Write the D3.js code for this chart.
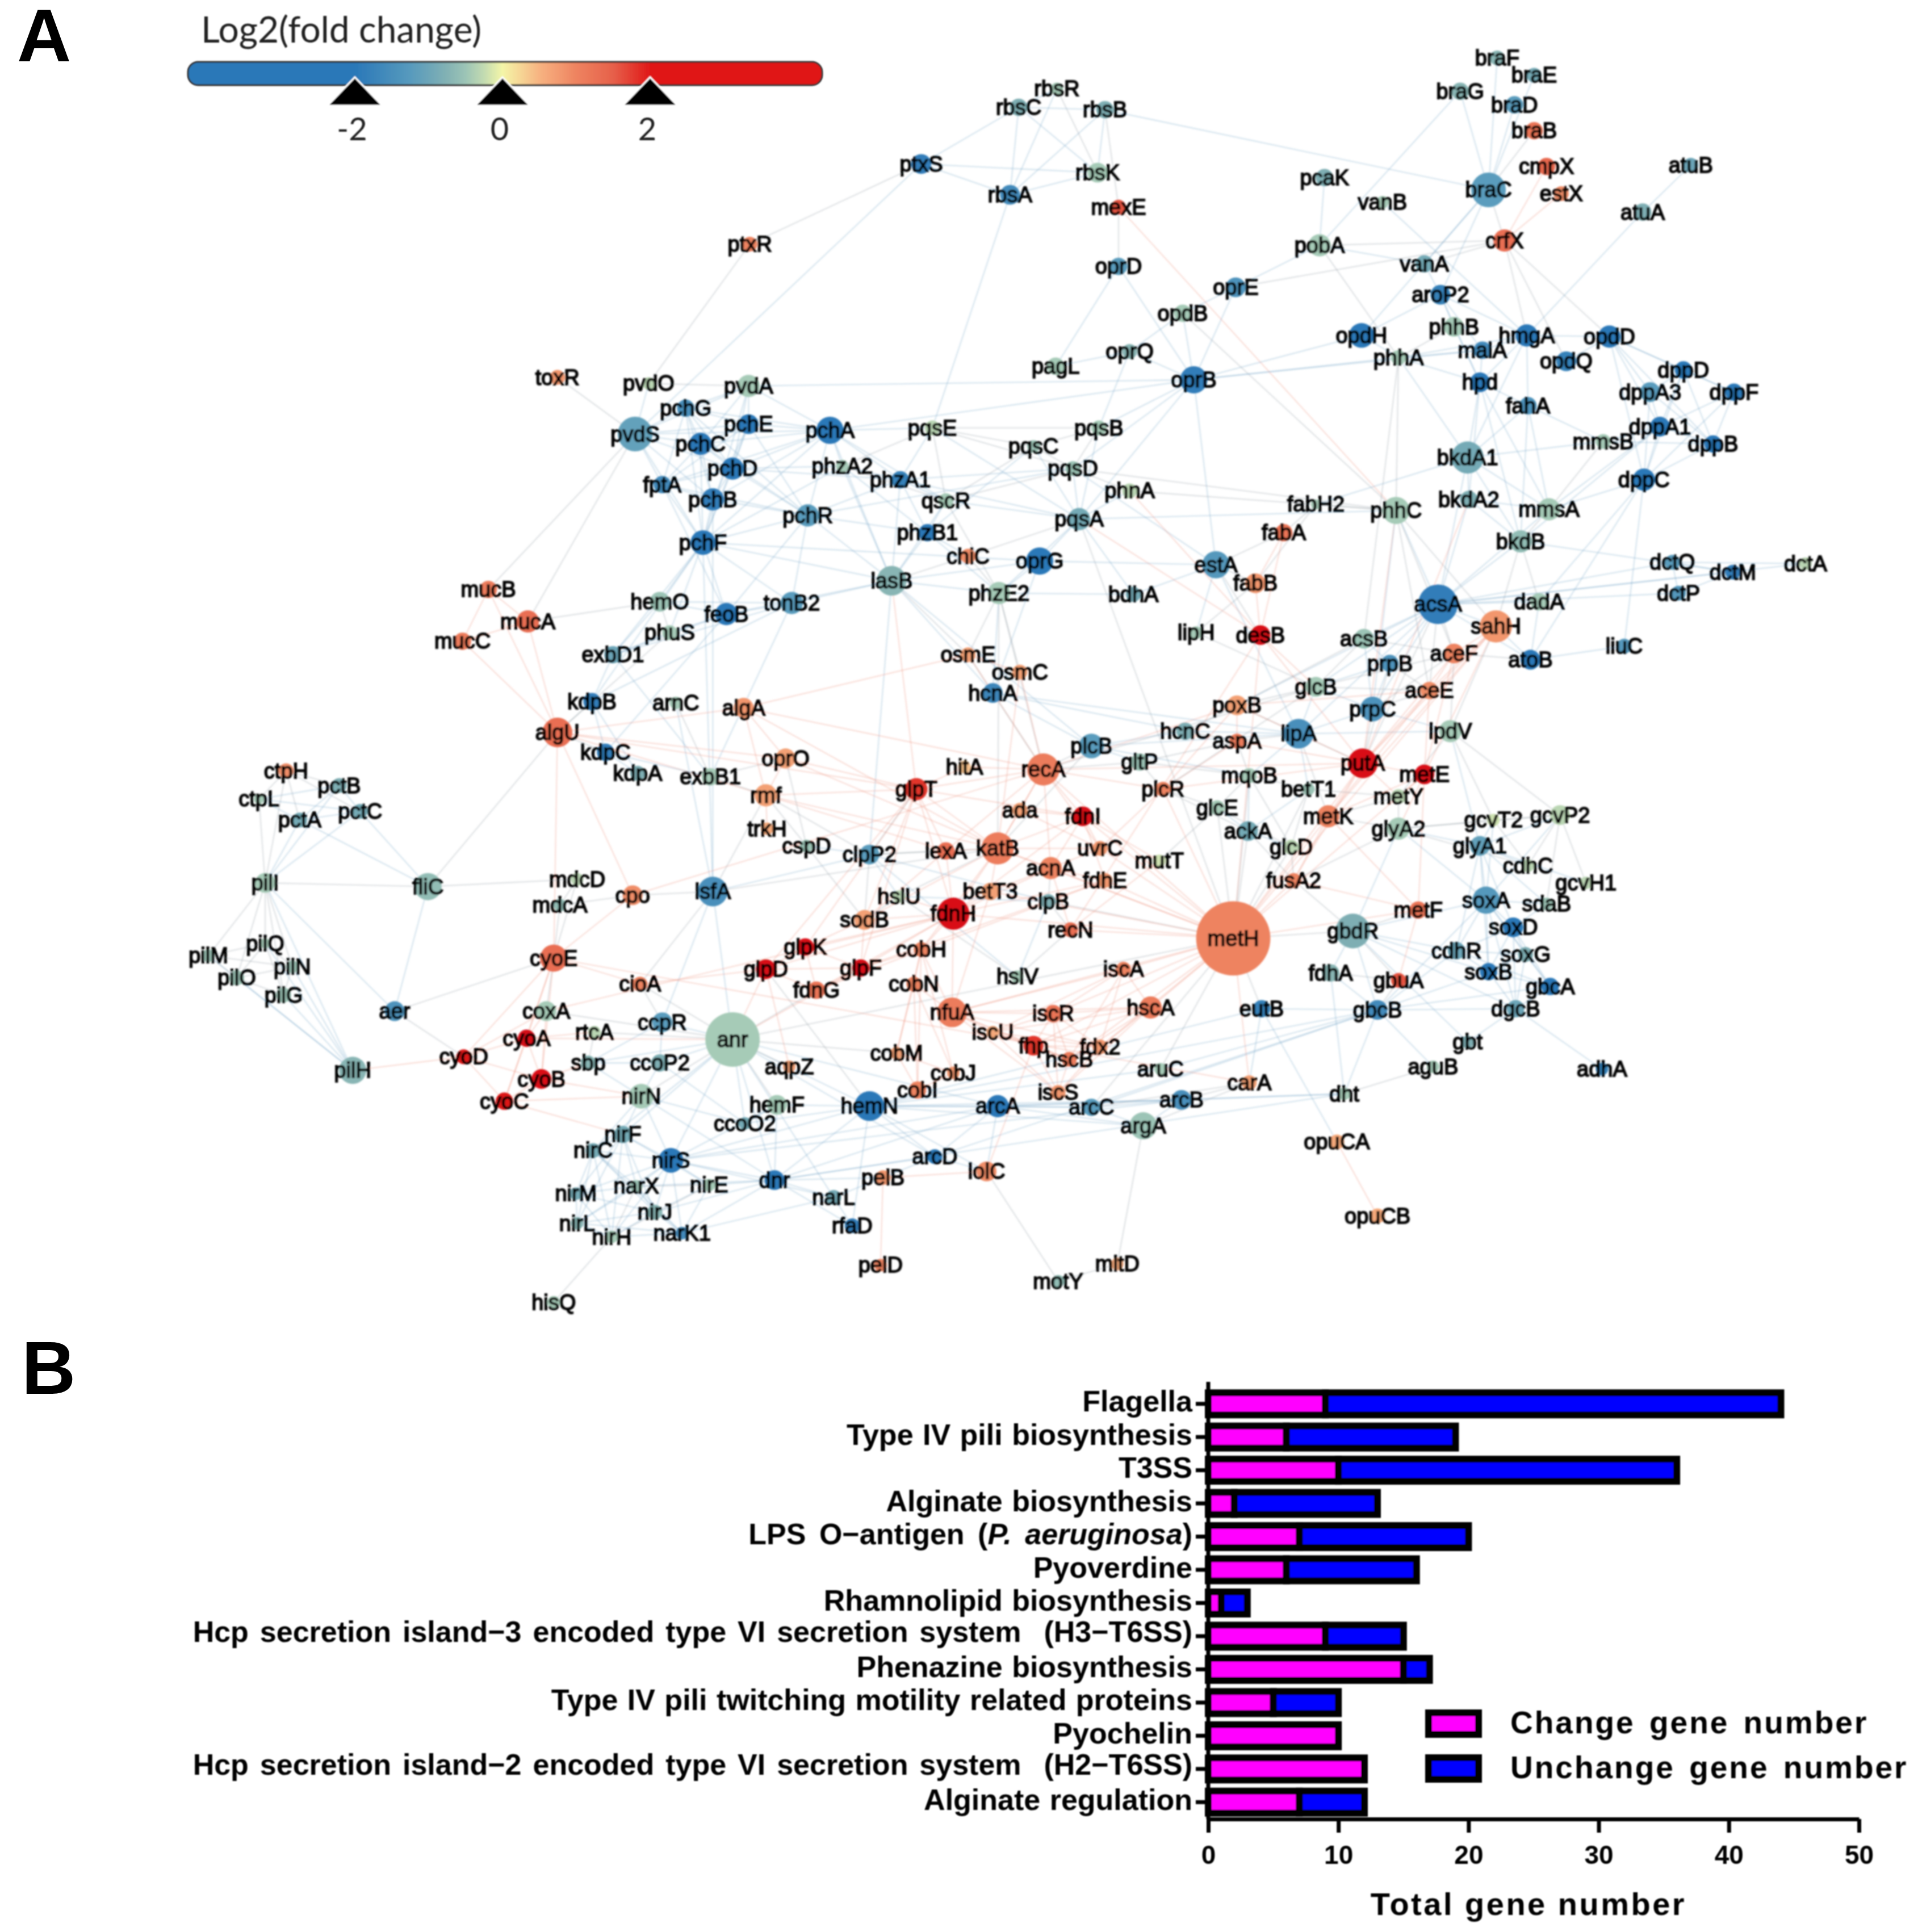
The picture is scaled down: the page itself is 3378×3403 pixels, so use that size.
<!DOCTYPE html>
<html><head><meta charset="utf-8">
<script src="https://cdn.jsdelivr.net/npm/d3@7"></script>
<style>html,body{margin:0;padding:0;background:#fff}svg{display:block}</style>
</head><body><svg id="c" width="3378" height="3403" viewBox="0 0 3378 3403"></svg>
<script>
// ---------- Panel A: network data (name, layout x, layout y, degree size, log2 fold change)
const nodeRows = `braF 1214 47 6 -.7|braE 1244 61 6 -.9|braG 1184 74 7 -.7|braD 1228 85 7 -1.2|braB 1244 106 7 1.2|cmpX 1254 135 7 1.4|estX 1266 157 6 .9|atuB 1371 134 6 -1|braC 1207 154 14 -1.2|pcaK 1074 144 7 -.8|vanB 1121 164 5 -.4|atuA 1332 172 7 -.8|crfX 1220 195 9 1.3|pobA 1070 199 9 -.4|vanA 1155 214 7 -.9|aroP2 1168 239 8 -1.8|rbsR 857 72 5 -.4|rbsC 826 87 7 -.8|rbsB 896 89 7 -.8|rbsK 890 140 8 -.4|rbsA 819 158 8 -1.6|mexE 907 168 6 1.6|ptxS 747 133 8 -1.9|ptxR 608 198 6 1|oprD 907 216 7 -1.2|oprE 1002 233 8 -1.4|opdB 959 254 7 -.4|opdH 1104 272 10 -2|phhB 1179 265 8 -.4|hmgA 1238 272 9 -2|opdD 1305 273 9 -2|phhA 1134 290 6 -.4|malA 1202 284 7 -1.6|opdQ 1270 293 8 -1.8|oprQ 916 285 6 -.7|pagL 856 297 7 -.4|oprB 968 308 11 -1.9|hpd 1200 310 8 -2|fahA 1239 329 7 -1.4|dppD 1365 300 7 -2|dppF 1406 318 7 -2|dppA3 1338 318 8 -1.2|dppA1 1346 346 8 -2|dppB 1389 360 7 -2|mmsB 1300 358 6 -.4|bkdA1 1190 371 13 -.9|dppC 1333 389 9 -2|pqsE 756 347 6 -.3|pqsB 891 347 6 -.4|pqsC 838 362 5 -.5|pqsD 870 380 6 -.5|phnA 916 398 6 -.3|pqsA 875 421 9 -.9|oprG 843 455 11 -2|estA 986 458 11 -1.3|bdhA 919 482 6 -.9|fabH2 1067 409 4 -.4|fabA 1041 432 7 1.2|fabB 1018 473 8 .8|phhC 1132 414 11 -.4|bkdA2 1191 405 7 -.8|mmsA 1256 413 9 -.4|bkdB 1233 439 9 -.6|dctQ 1356 456 6 -1.2|dctM 1405 464 6 -1.9|dctA 1464 457 5 -.3|dctP 1361 481 6 -1.3|dadA 1248 488 7 -.4|acsA 1166 490 16 -1.9|sahH 1213 508 13 .8|liuC 1317 524 6 -1.3|lipH 970 513 5 -.4|desB 1022 515 8 2.3|acsB 1106 518 8 -.5|aceF 1179 530 8 1|prpB 1127 538 7 -1.4|atoB 1241 535 8 -2|toxR 452 306 6 .8|pvdO 526 311 5 -.3|pvdA 607 313 9 -.4|pchG 556 331 7 -1.5|pvdS 515 352 14 -1.1|pchE 607 344 8 -2|pchC 568 360 9 -2|pchA 673 349 11 -2|pchD 594 380 9 -2|phzA2 683 378 5 -.4|fptA 537 393 7 -1.6|pchB 578 405 9 -1.9|phzA1 730 389 7 -1.8|qscR 767 406 6 -.4|pchR 655 418 9 -1.2|phzB1 752 432 7 -2|pchF 570 440 10 -2|chiC 785 451 6 .9|lasB 723 471 12 -.7|phzE2 810 481 9 -.4|hemO 535 488 8 -.5|feoB 589 498 9 -2|tonB2 642 489 9 -1.2|phuS 543 513 6 -.4|mucB 396 478 7 1.1|mucA 428 504 9 1.3|mucC 375 520 7 1.1|exbD1 497 531 7 -1|osmE 785 531 6 .7|osmC 827 545 6 .7|hcnA 805 562 8 -1.7|kdpB 480 569 7 -1.9|arnC 548 570 5 -.4|algA 603 574 8 .8|algU 452 594 12 1.3|kdpC 491 610 7 -1.9|kdpA 517 627 6 -.8|exbB1 576 630 7 -.4|oprO 637 615 8 .7|rmf 621 645 9 .7|glcB 1067 557 8 -.4|aceE 1159 560 7 .9|prpC 1113 575 10 -1.4|poxB 1003 572 8 .7|hcnC 961 593 7 -.8|lipA 1053 595 12 -1.5|lpdV 1176 593 9 -.4|plcB 885 605 10 -1.2|recA 846 624 13 1.1|gltP 924 618 7 -.5|aspA 1003 601 6 1.1|putA 1105 619 12 2.3|metE 1155 628 8 2.3|mqoB 1013 629 6 -.4|betT1 1061 640 5 -.5|plcR 943 640 6 1|metY 1134 646 6 -.3|ada 827 657 6 .7|fdnI 878 662 8 2.3|glcE 987 655 6 -.4|ackA 1012 674 8 -.9|metK 1077 662 9 1|gcvT2 1211 665 5 -.2|gcvP2 1265 661 8 -.3|glyA2 1134 672 9 -.4|katB 809 688 13 1.1|uvrC 892 688 6 .8|glcD 1047 687 6 -.3|glyA1 1200 686 8 -1.1|mutT 940 698 5 -.2|acnA 852 704 9 1|fdhE 896 714 6 .8|fusA2 1049 714 6 1|cdhC 1239 702 5 -.3|gcvH1 1286 716 5 -.3|lexA 767 690 7 1.3|clpP2 705 693 8 -1.2|cspD 654 686 5 -.5|trkH 622 672 5 .6|glpT 743 640 9 1.8|hitA 782 622 5 .4|betT3 803 723 7 .7|clpB 850 731 6 -.8|soxA 1205 730 11 -1.3|sdaB 1254 733 5 -.5|metF 1150 738 7 1.2|fdnH 773 741 13 2.3|hslU 729 727 5 -.3|sodB 701 746 8 .7|recN 868 754 6 1.3|gbdR 1097 755 14 -.8|soxD 1227 752 8 -2|metH 1000 761 30 1|cdhR 1181 771 7 -1|soxG 1237 774 6 -.8|mdcD 468 713 5 -.3|mdcA 454 734 5 -.6|cpo 513 726 8 .9|lsfA 578 723 12 -1.5|fliC 347 719 11 -.6|pilI 215 716 8 -.4|ctpH 232 625 6 .9|pctB 275 637 6 -.8|ctpL 210 648 4 -.4|pctA 243 665 6 -.9|pctC 292 658 6 -.9|pilQ 215 765 4 -.4|pilM 169 775 5 -.5|pilN 237 784 5 -.5|pilO 192 793 6 -.5|pilG 230 807 6 -.5|aer 320 820 8 -1.4|pilH 286 868 11 -.7|cyoE 449 777 11 1.3|glpK 653 768 7 2.2|glpD 621 786 8 2.3|glpF 698 785 7 2.3|cobH 747 770 6 1|cobN 741 798 6 1|fdnG 662 803 7 1.2|cioA 519 798 6 1|hslV 825 792 5 -.4|iscA 911 786 6 1|nfuA 772 821 12 1.1|hscA 933 817 9 1.1|iscR 854 822 7 1.2|eutB 1023 818 7 -1.8|fdhA 1079 789 7 -.7|gbuA 1134 795 6 1.6|soxB 1207 788 7 -2|gbcA 1257 800 7 -2|gbcB 1117 819 8 -1.6|dgcB 1229 818 7 -1|coxA 443 820 8 -.4|ccpR 537 829 8 -1.2|rtcA 482 837 5 -.3|cyoA 427 842 7 2.4|anr 594 843 22 -.4|iscU 805 837 5 .6|fhp 838 848 8 1.8|fdx2 892 849 6 .8|hscB 867 859 6 1.1|sbp 477 862 6 -.7|ccoP2 535 862 7 -.8|cyoD 376 857 6 2.1|cobM 727 854 5 .7|aqpZ 640 865 5 .7|cobJ 773 870 5 .8|cyoB 439 875 8 2.2|cobI 744 884 7 1|aruC 941 867 5 -.4|gbt 1190 845 5 -.8|aguB 1162 865 5 -.4|adhA 1299 867 5 -1.8|carA 1013 878 6 .7|iscS 858 886 6 .8|dht 1090 887 5 -.4|nirN 520 889 10 -.4|cyoC 409 893 7 2.1|hemF 630 896 8 -.4|hemN 705 897 12 -2|ccoO2 604 911 5 -.9|arcA 809 897 9 -2|arcC 885 898 7 -1.2|arcB 958 892 8 -1.5|argA 927 913 11 -.5|nirF 505 920 7 -.9|nirC 481 933 6 -.9|nirS 544 941 10 -2|arcD 758 938 6 -2|opuCA 1084 926 6 .6|pelB 716 955 6 .8|lolC 800 950 8 .9|dnr 628 957 8 -2|nirM 467 968 5 -.9|narX 516 962 5 -.5|nirE 575 961 5 -.4|narL 676 971 6 -.9|nirJ 531 983 6 -.7|opuCB 1117 986 6 .6|nirL 468 992 5 -.7|narK1 553 1000 5 -1.6|nirH 496 1003 5 -.4|rfaD 691 994 6 -1.9|pelD 714 1026 5 1|mltD 906 1025 5 .6|motY 858 1039 5 -.6|hisQ 449 1056 5 -.4`;

// adjacency: "hub: neighbours"
const edgeRows = [
"braC: braF braE braG braD braB vanA crfX aroP2 rbsB opdH",
"crfX: cmpX estX hmgA opdD vanA pobA opdQ",
"braG: pobA","pobA: pcaK vanA phhA oprE","vanB: hmgA","crfX: oprE",
"rbsA: rbsC rbsR rbsB rbsK ptxS pqsE","rbsK: rbsC rbsB rbsR ptxS","ptxS: ptxR rbsC pvdS","ptxR: pvdO","rbsC: rbsB rbsR",
"mexE: oprD phhC rbsB","oprD: oprB pagL","oprE: oprB opdB","opdB: oprB oprQ phhC","oprQ: pagL pqsB oprB",
"oprB: opdH phhA estA pqsA pqsD pchA malA pqsB","atuB: atuA","atuA: hmgA",
"aroP2: opdH phhB hpd hmgA malA vanA","phhB: phhA hpd","phhA: hpd malA opdH bkdA1 phhC hmgA acsB","hpd: fahA bkdA1 malA hmgA bkdA2 mmsA bkdB","hmgA: fahA malA bkdA1","fahA: bkdB mmsA bkdA1 mmsB",
"opdD: dppD dppF dppA3 dppA1 dppB dppC opdQ hmgA","dppA1: dppD dppF dppA3 dppB dppC mmsA mmsB bkdB","dppC: dppD dppF dppA3 dppB mmsA atoB","dppB: dppD dppA3 dppF mmsB","dppD: dppA3 dppF",
"bkdA1: bkdA2 bkdB mmsA mmsB acsA fabH2","bkdA2: acsA bkdB mmsA putA","bkdB: acsA sahH mmsA dadA","mmsA: mmsB acsA","phhC: acsA sahH aceF pqsA fabH2 aceE putA prpC","fabH2: fabA fabB","fabA: fabB desB","fabB: desB lipH estA",
"acsA: dctQ dctM dctP dctA dadA sahH acsB prpB prpC aceF aceE glcB lipA putA atoB poxB","atoB: liuC aceF dadA sahH","sahH: metE metK putA metH aceF aceE lpdV","dctQ: dctM dctP dctA","dctM: dctP bkdB","liuC: dppC",
"toxR: pvdS","pvdS: pvdO pvdA pchG pchE pchC pchD fptA pchB pchA mucB mucA pchF","pvdA: pvdO pchG pchE pchC pchD pchA oprB pchF",
"pchG: pchE pchC pchD pchB pchF pchR pchA fptA","pchE: pchC pchD pchB pchF pchR pchA fptA","pchC: pchD pchB pchF pchR pchA fptA","pchD: pchB pchF pchR pchA fptA phzA2 phzA1","pchB: pchF pchR pchA fptA","pchA: pchF pchR fptA pqsE phzA2 phzA1 qscR lasB","fptA: pchF pchR feoB","pchF: pchR hemO feoB tonB2 lasB phuS exbD1 kdpB lsfA",
"pchR: feoB tonB2 lasB phzA1 phzB1 pqsD","phzA1: phzA2 phzB1 qscR pqsE lasB pqsA pqsD","phzA2: phzB1 qscR pchF pqsE lasB","phzB1: qscR lasB chiC pqsC phzE2","qscR: pqsA pqsD pqsC pqsE phzE2 lasB","pqsA: pqsB pqsC pqsD pqsE oprG phnA desB phzE2 metH chiC bdhA","pqsB: pqsC pqsD pqsE","pqsC: pqsD pqsE","pqsD: pqsE phnA estA phhC","phnA: phhC desB","oprG: pchF phzE2 lasB estA hcnA",
"lasB: chiC hcnA plcB phzE2 tonB2 feoB osmE glpT clpP2","phzE2: chiC hcnA recA osmC osmE bdhA katB","estA: lipH desB bdhA oprB fabA lipA","desB: metH recN putA glcB","osmE: osmC hcnA recA algA","hemO: phuS feoB exbD1","feoB: tonB2 phuS exbD1 kdpC","tonB2: exbD1 exbB1 kdpB hemO","phuS: exbD1 algU","exbD1: exbB1 kdpB",
"mucA: mucB mucC algU hemO","mucB: mucC algU","mucC: algU","algU: algA rmf oprO fliC kdpC kdpB cpo cyoE glpT","algA: rmf oprO recA katB","kdpB: kdpC kdpA","kdpC: kdpA exbB1","arnC: lsfA exbB1","exbB1: rmf oprO","rmf: oprO trkH cspD glpT lexA katB clpP2","oprO: glpT katB cspD",
"recA: ada fdnI katB lexA uvrC glpT acnA plcR poxB putA metH","hcnA: plcB hcnC recA lipA","plcB: hcnC gltP recA lipA katB mqoB","hcnC: lipA aspA poxB","lipA: prpC glcB aspA putA poxB lpdV metK mqoB betT1","poxB: aspA putA glcB aceE plcR","aspA: putA plcR mqoB gltP","putA: metE metK metY aceF aceE fusA2 plcR metH prpC prpB","metE: metK metY glyA2 aceF aceE metF metH","metK: metY glyA2 metF metH fusA2 aceE",
"lpdV: prpC glyA1 gcvT2 aceF metY","glyA2: glyA1 metY gcvT2 gcvP2 soxA cdhC fusA2","glyA1: gcvT2 gcvP2 soxA soxD sdaB cdhC gcvH1 cdhR soxB","gcvP2: gcvT2 cdhC gcvH1 sdaB soxA lpdV","gcvT2: cdhC soxA","soxA: soxB soxD soxG sdaB cdhR gbcA dgcB gbcB gbdR","soxD: soxB soxG sdaB cdhR gbcA dgcB","soxB: soxG cdhR gbcA dgcB gbcB gbdR","soxG: gbcA dgcB cdhR","gbcA: dgcB gbcB cdhR","dgcB: gbcB gbt adhA gbdR","cdhR: gbcB gbdR","gbdR: metF fdhA gbcB gbuA metH glyA2 gbt","gbcB: fdhA gbuA aguB dht eutB arcC","gbuA: fdhA metF","dht: aguB arcA arcB",
"metH: fusA2 glcD ackA metK recA katB fdnH nfuA hscA iscA plcR eutB carA aruC arcC anr metF mqoB glcE betT1 fdhE acnA uvrC recN fdnI fhp hscB iscR fdx2 clpB gbdR betT3",
"glcE: ackA glcD mqoB mutT plcR","ackA: glcD mqoB fusA2 plcR","glcD: fusA2 betT1 mqoB","mqoB: betT1 glcE","fusA2: gbdR metF",
"katB: lexA ada fdnH betT3 acnA uvrC glpT fdnI clpP2 sodB hslU cobH","acnA: uvrC fdnI fdhE betT3 fdnH clpB recN","fdnI: fdhE fdnH glpT uvrC ada mutT","fdhE: fdnH fdnG glpF","fdnH: glpF glpD glpK fdnG sodB betT3 hslU lexA glpT cobH nfuA","glpT: glpK glpD glpF lexA hitA clpP2 sodB","glpK: glpD glpF fdnG sodB","glpD: glpF fdnG aqpZ cioA","glpF: fdnG cobH sodB","sodB: clpP2 hslU lexA cspD","clpP2: hslU lexA cspD clpB hslV","hslU: hslV clpB","hslV: clpB recN",
"cobH: cobN cobM cobI cobJ nfuA","cobN: cobM cobI cobJ nfuA","cobM: cobI cobJ","cobJ: cobI","nfuA: iscR iscU fhp hscA iscA hscB fdx2 iscS betT3","iscR: iscU fhp hscA iscA hscB fdx2 iscS","hscA: iscA iscU hscB fdx2 fhp iscS","iscA: iscU fdx2 hscB","iscU: fhp hscB fdx2 iscS","fhp: hscB fdx2 iscS lolC","hscB: fdx2 iscS","fdx2: iscS",
"anr: nirN nirF nirS ccoP2 ccoO2 hemF hemN dnr lsfA fdnG glpD cioA coxA ccpR rtcA sbp aqpZ arcA nirC cyoA cobM glpF arcD narL",
"ccpR: ccoP2 lsfA cioA sbp","ccoP2: ccoO2 sbp nirN","ccoO2: hemF hemN nirN","hemF: hemN dnr nirS","hemN: arcA arcC arcB argA arcD dnr nirS lolC aruC rfaD glpD","arcA: arcC arcB argA arcD lolC dnr nirS","arcC: arcB argA carA","arcB: argA carA dht","argA: mltD carA",
"nirN: nirF nirS nirC sbp cyoB cyoC","nirF: nirC nirS nirM narX nirE nirJ nirL nirH","nirS: nirC nirM narX nirE nirJ nirL nirH narK1 dnr narL","nirC: nirM narX nirJ nirL nirH narK1","nirM: narX nirJ nirL nirH","narX: nirJ nirL nirH narK1 nirE dnr","nirE: nirJ nirH narK1 dnr","nirJ: nirL nirH narK1 dnr","nirL: nirH narK1","nirH: narK1 hisQ","narK1: dnr narL","dnr: narL rfaD pelB arcD nirJ nirN","narL: rfaD arcD","pelB: pelD lolC","lolC: motY arcD","motY: mltD",
"cyoE: mdcA mdcD cyoA cyoB cyoC cyoD coxA cioA cpo","cyoA: cyoB cyoC cyoD coxA","cyoB: cyoC cyoD sbp","cyoC: cyoD nirF","cyoD: coxA aer pilH","coxA: cyoB fdnH","rtcA: sbp cyoA","cioA: glpD lsfA","mdcA: mdcD cpo","cpo: lsfA recA","lsfA: clpP2 ccpR katB rmf pchB",
"fliC: pctA pctC mdcD aer algU pilI","pilI: ctpH pctB ctpL pctA pctC pilQ pilM pilN pilO pilG aer pilH","pctA: ctpH pctB ctpL pctC","pctB: ctpH ctpL pctC","pctC: ctpH ctpL","ctpH: ctpL","pilH: pilQ pilM pilN pilO pilG cyoD","pilQ: pilN pilO pilG pilM","pilM: pilN pilO","pilN: pilO pilG","pilO: pilG","aer: cyoE",
"eutB: opuCA carA","opuCA: opuCB","carA: cyoE","dht: fdhA","aruC: gbcB","hemN: gbcB eutB","arcD: gbcB","nirS: arcB","dnr: dht",
"lipH: glcB","poxB: acsB","acsB: prpB prpC glcB aceF","prpB: prpC glcB aceE","prpC: glcB aceE aceF","glcB: aceF aceE plcR recA","aceE: aceF metE","dadA: dppC",
"osmC: recA katB","hitA: recA glpT","ada: uvrC","clpB: recN","plcR: uvrC gltP","gltP: mqoB recA","betT1: metY ackA","metY: glyA2","mutT: recN glcE"
];

// ---------- Panel B: bar chart data
const pathways = ["Flagella","Type IV pili biosynthesis","T3SS","Alginate biosynthesis","LPS O\u2212antigen (P. aeruginosa)","Pyoverdine","Rhamnolipid biosynthesis","Hcp secretion island\u22123 encoded type VI secretion system  (H3\u2212T6SS)","Phenazine biosynthesis","Type IV pili twitching motility related proteins","Pyochelin","Hcp secretion island\u22122 encoded type VI secretion system  (H2\u2212T6SS)","Alginate regulation"];
const changed   = [9,6,10,2,7,6,1,9,15,5,10,12,7];
const unchanged = [35,13,26,11,13,10,2,6,2,5,0,0,5];
const xTicks = [0,10,20,30,40,50];
const fcTicks = [-2,0,2];

const svg = d3.select("#c");
const defs = svg.append("defs");
defs.append("filter").attr("id","soft").attr("filterUnits","userSpaceOnUse")
  .attr("x",0).attr("y",0).attr("width",3378).attr("height",3403)
  .append("feGaussianBlur").attr("stdDeviation",1.5);
defs.append("filter").attr("id","softB").attr("filterUnits","userSpaceOnUse")
  .attr("x",0).attr("y",0).attr("width",3378).attr("height",3403)
  .append("feGaussianBlur").attr("stdDeviation",0.9);

const fc = d3.scaleLinear()
  .domain([-2,-1.2,-.8,-.4,0,.5,1,1.5,2,2.4])
  .range(["#2a78b8","#5a9cbd","#7eaeb3","#a6cbb7","#f4f6a8","#f7b381","#ee8360","#e6604a","#e01818","#d60814"])
  .clamp(true);

const sx = d3.scaleLinear().domain([0,1000]).range([0,2172]);
const sy = d3.scaleLinear().domain([0,1000]).range([0,2172]);
const sr = d3.scaleLinear().domain([0,10]).range([0,21.8]);

const nodes = nodeRows.split("|").map(s=>{const p=s.trim().split(/\s+/);return {n:p[0],x:+p[1],y:+p[2],r:+p[3],f:+p[4]};});
const byName = new Map(nodes.map(d=>[d.n,d]));
const seen = new Set(), edges = [];
edgeRows.forEach(r=>{const [a,rest]=r.split(":");rest.trim().split(/\s+/).forEach(b=>{
  const k=[a,b].sort().join("~"); if(seen.has(k)||!byName.has(a)||!byName.has(b))return; seen.add(k);
  edges.push({a:byName.get(a),b:byName.get(b)});});});

// Panel letters
const letters=[["A",30,108],["B",38,2455]];
svg.selectAll("text.pl").data(letters).join("text").attr("class","pl")
  .attr("x",d=>d[1]).attr("y",d=>d[2]).text(d=>d[0])
  .attr("font-family","Liberation Sans").attr("font-weight","bold").attr("font-size",132).attr("fill","#000");

// Colour legend
const barX = d3.scaleLinear().domain([-2,2]).range([625,1145]);
const lg = svg.append("g").attr("filter","url(#softB)");
const grad = defs.append("linearGradient").attr("id","bar").attr("gradientUnits","userSpaceOnUse")
  .attr("x1",barX(-2)).attr("x2",barX(2)).attr("y1",0).attr("y2",0);
d3.range(-2,2.01,.25).forEach(v=>grad.append("stop").attr("offset",(v+2)/4).attr("stop-color",fc(v)));
lg.append("rect").attr("x",331).attr("y",109).attr("width",1117).attr("height",41).attr("rx",18)
  .attr("fill","url(#bar)").attr("stroke","#333").attr("stroke-width",3);
lg.append("text").attr("x",354).attr("y",75).text("Log2(fold change)")
  .attr("font-family","Lato").attr("font-size",64).attr("fill","#222");
fcTicks.forEach(v=>{
  const x=barX(v);
  lg.append("path").attr("d",d3.line()([[x,136],[x+48,186],[x-48,186]])+"Z").attr("fill","#000").attr("stroke","#fff").attr("stroke-width",3);
  lg.append("text").attr("x",x-5).attr("y",247).attr("text-anchor","middle").text(v)
    .attr("font-family","Lato").attr("font-size",56).attr("fill","#222");
});

// Network
const net = svg.append("g").attr("filter","url(#soft)");
net.append("g").selectAll("line").data(edges).join("line")
  .attr("x1",d=>sx(d.a.x)).attr("y1",d=>sy(d.a.y)).attr("x2",d=>sx(d.b.x)).attr("y2",d=>sy(d.b.y))
  .attr("stroke",d=>{const m=(d.a.f+d.b.f)/2; return m>0.5?"#ee8d78":(m<-0.5?"#6ea3c6":"#8f9aa3");})
  .attr("stroke-opacity",.28).attr("stroke-width",2.3);
net.append("g").selectAll("circle").data(nodes).join("circle")
  .attr("cx",d=>sx(d.x)).attr("cy",d=>sy(d.y)).attr("r",d=>sr(d.r)).attr("fill",d=>fc(d.f));
net.append("g").selectAll("text").data(nodes).join("text")
  .attr("x",d=>sx(d.x)).attr("y",d=>sy(d.y)+13).attr("text-anchor","middle").text(d=>d.n)
  .attr("font-family","Liberation Sans").attr("font-size",38).attr("fill","#000")
  .attr("stroke","#000").attr("stroke-width",1.8);

// Panel B
const x = d3.scaleLinear().domain([0,50]).range([2128,3274]);
const y = d3.scaleBand().domain(pathways).range([2443.5,3203.5]).paddingInner(0).align(.5);
const b = svg.append("g").attr("filter","url(#softB)");
const barH = 39, sw = 12;
const rows = pathways.map((p,i)=>({p,c:changed[i],u:unchanged[i]}));
const rowG = b.selectAll("g.r").data(rows).join("g").attr("class","r");
rowG.append("rect").attr("x",x(0)).attr("y",d=>y(d.p)+y.bandwidth()/2-barH/2)
  .attr("width",d=>x(d.c)-x(0)).attr("height",barH).attr("fill","#ff00ff").attr("stroke","#000").attr("stroke-width",sw);
rowG.filter(d=>d.u>0).append("rect").attr("x",d=>x(d.c)).attr("y",d=>y(d.p)+y.bandwidth()/2-barH/2)
  .attr("width",d=>x(d.c+d.u)-x(d.c)).attr("height",barH).attr("fill","#0000ff").attr("stroke","#000").attr("stroke-width",sw);
rowG.append("line").attr("x1",d=>x(d.c)).attr("x2",d=>x(d.c)).attr("y1",d=>y(d.p)+y.bandwidth()/2-barH/2+sw/2).attr("y2",d=>y(d.p)+y.bandwidth()/2+barH/2-sw/2).attr("stroke","#000").attr("stroke-width",3);

const ay = d3.axisLeft(y).tickSize(22).tickPadding(6);
const gy = b.append("g").attr("transform",`translate(${x(0)},0)`).call(ay);
gy.select(".domain").attr("d",`M0,2434V3204`).attr("stroke","#000").attr("stroke-width",7);
gy.selectAll(".tick line").attr("stroke","#000").attr("stroke-width",7);
gy.selectAll(".tick text").attr("font-family","Liberation Sans").attr("font-weight","bold").attr("font-size",52).attr("fill","#000")
  .attr("dy","0.26em").attr("word-spacing",d=>d.startsWith("Hcp")?5.5:(d.startsWith("LPS")?9:2)).style("white-space","pre")
  .each(function(d){
    if(d.startsWith("Hcp"))d3.select(this).attr("dy","0.2em");
    if(d.includes("P. aeruginosa")){const t=d3.select(this);t.text(null);
      t.append("tspan").text("LPS O\u2212antigen (");t.append("tspan").attr("font-style","italic").text("P. aeruginosa");t.append("tspan").text(")");}
  });
const ax = d3.axisBottom(x).tickValues(xTicks).tickSize(24).tickPadding(22).tickSizeOuter(0);
const gx = b.append("g").attr("transform","translate(0,3204)").call(ax);
gx.select(".domain").attr("stroke","#000").attr("stroke-width",7);
gx.selectAll(".tick line").attr("stroke","#000").attr("stroke-width",7);
gx.selectAll(".tick text").attr("font-family","Liberation Sans").attr("font-weight","bold").attr("font-size",46).attr("fill","#000");
b.append("text").attr("x",2692).attr("y",3373).attr("text-anchor","middle").text("Total gene number")
  .attr("font-family","Liberation Sans").attr("font-weight","bold").attr("font-size",56).attr("letter-spacing",3.5).attr("fill","#000");

// Legend B
const legendRows=[["Change gene number","#ff00ff",3036],["Unchange gene number","#0000ff",3115]];
const lb=b.selectAll("g.l").data(legendRows).join("g").attr("class","l");
lb.append("rect").attr("x",2516).attr("y",d=>d[2]-19).attr("width",88).attr("height",38).attr("fill",d=>d[1]).attr("stroke","#000").attr("stroke-width",12);
lb.append("text").attr("x",2660).attr("y",d=>d[2]+17).text(d=>d[0]).attr("font-family","Liberation Sans").attr("font-weight","bold")
  .attr("font-size",55).attr("letter-spacing",3).attr("word-spacing",7).attr("fill","#000");
</script></body></html>
